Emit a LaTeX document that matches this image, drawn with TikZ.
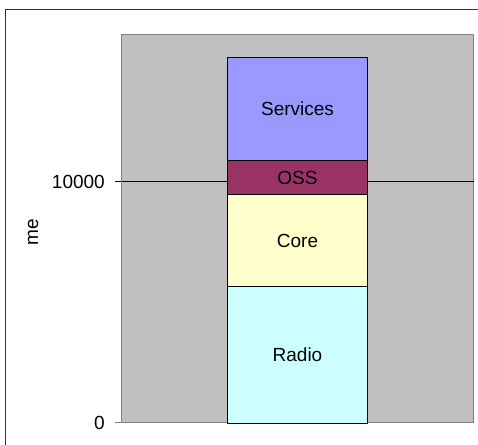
\documentclass[tikz,border=0pt]{standalone}
\usepackage{fontspec}
\setmainfont{Liberation Sans}
\definecolor{plotbg}{HTML}{C0C0C0}
\definecolor{plotedge}{HTML}{808080}
\definecolor{services}{HTML}{9999FF}
\definecolor{oss}{HTML}{993366}
\definecolor{core}{HTML}{FFFFCC}
\definecolor{radio}{HTML}{CCFFFF}
\begin{document}
\begin{tikzpicture}[x=1pt,y=-1pt,
  seg/.style={draw=black, line width=1pt, inner sep=0pt, anchor=north west,
    minimum width=140.6pt, font=\fontsize{19}{22}\selectfont},
  ticklabel/.style={anchor=east, inner sep=0pt, font=\fontsize{19}{22}\selectfont},
  gridline/.style={draw=black, line width=0.9pt}]
  \useasboundingbox (0,0) rectangle (478,444);
  % chart frame (runs off the right and bottom edges)
  \draw[line width=1pt, draw=black!80] (5.5,460) -- (5.5,10) -- (490,10);
  % plot area
  \path[fill=plotbg, draw=plotedge, line width=1pt] (121.5,35) rectangle (473.7,422.7);
  % value axis: tick marks, grid line at 10000, labels
  \coordinate (g0) at (115,181.7);
  \coordinate (g1) at (473.7,181.7);
  \draw[gridline] (g0) -- (g1);
  \coordinate (z0) at (115,422.7);
  \coordinate (z1) at (121.5,422.7);
  \draw[draw=plotedge, line width=1pt] (z0) -- (z1);
  \coordinate (a0) at (121.5,35);
  \coordinate (a1) at (121.5,422.7);
  \draw[draw=plotedge, line width=1pt] (a0) -- (a1);
  \node[ticklabel] (l10000) at (105,181.7) {10000};
  \node[ticklabel] (l0) at (105,423) {0};
  \node[rotate=90, inner sep=0pt, font=\fontsize{19}{22}\selectfont] (ytitle) at (33,232) {me};
  % stacked bar
  \node[seg, fill=services, minimum height=103pt] (services) at (226.7,56.7) {Services};
  \node[seg, fill=oss, minimum height=34.6pt] (oss) at (226.7,159.7) {OSS};
  \node[seg, fill=core, minimum height=91.7pt] (core) at (226.7,194.3) {Core};
  \node[seg, fill=radio, minimum height=136.7pt] (radio) at (226.7,286) {Radio};
\end{tikzpicture}
\end{document}
